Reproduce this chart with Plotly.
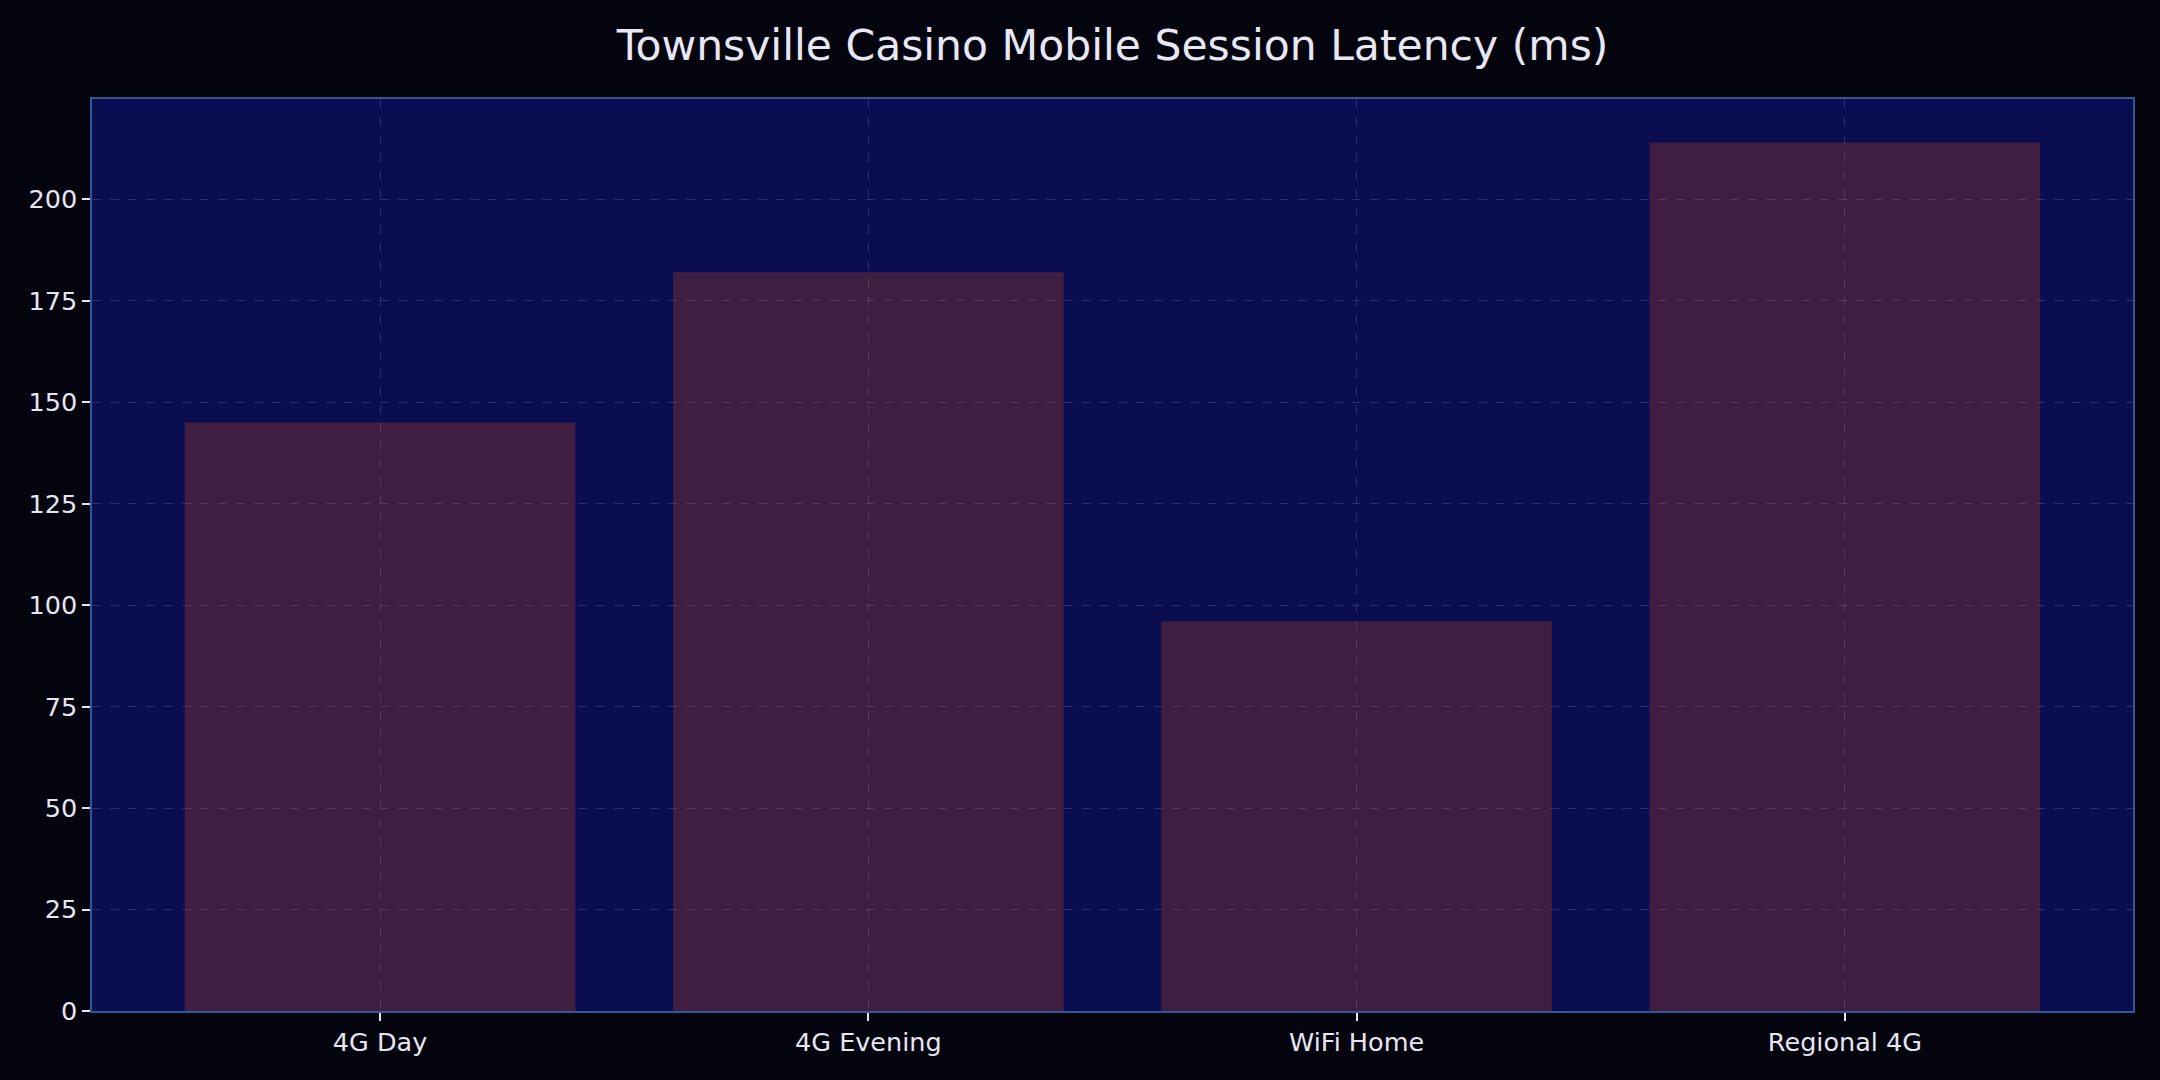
import plotly.graph_objects as go

# chart data
categories = ["4G Day", "4G Evening", "WiFi Home", "Regional 4G"]
latency_ms = [145, 182, 96, 214]
y_ticks = [0, 25, 50, 75, 100, 125, 150, 175, 200]

fig = go.Figure()
fig.add_trace(go.Bar(
    x=categories,
    y=latency_ms,
    width=0.8,
    marker=dict(color="rgba(222,84,24,0.25)", line=dict(width=0)),
    hoverinfo="x+y",
))

axis_common = dict(
    showline=True,
    linecolor="#2e5896",
    linewidth=1.5,
    mirror=True,
    ticks="outside",
    ticklen=8,
    tickwidth=1.5,
    tickcolor="#e6e6f0",
    tickfont=dict(family="DejaVu Sans", size=25.5, color="#e6e6f0"),
    showgrid=True,
    gridcolor="rgba(120,105,170,0.35)",
    gridwidth=1,
    griddash="dash",
    zeroline=False,
)

fig.update_layout(
    width=2160,
    height=1080,
    paper_bgcolor="#04040f",
    plot_bgcolor="#0a0d50",
    margin=dict(l=92, r=27, t=99, b=69),
    showlegend=False,
    bargap=0.2,
    title=dict(
        text="Townsville Casino Mobile Session Latency (ms)",
        xref="paper",
        x=0.5,
        xanchor="center",
        y=1 - 45 / 1080,
        yanchor="middle",
        font=dict(family="DejaVu Sans", size=42.5, color="#e8e8f5"),
    ),
    xaxis=dict(axis_common, range=[-0.59, 3.59]),
    yaxis=dict(axis_common, range=[0, 224.7], tickvals=y_ticks),
)

# drop the default page margin so the figure sits flush in the window
fig.write_html(
    "out.html",
    config={"displayModeBar": False},
    post_script="document.body.style.margin='0';document.body.style.background='#04040f';",
)
